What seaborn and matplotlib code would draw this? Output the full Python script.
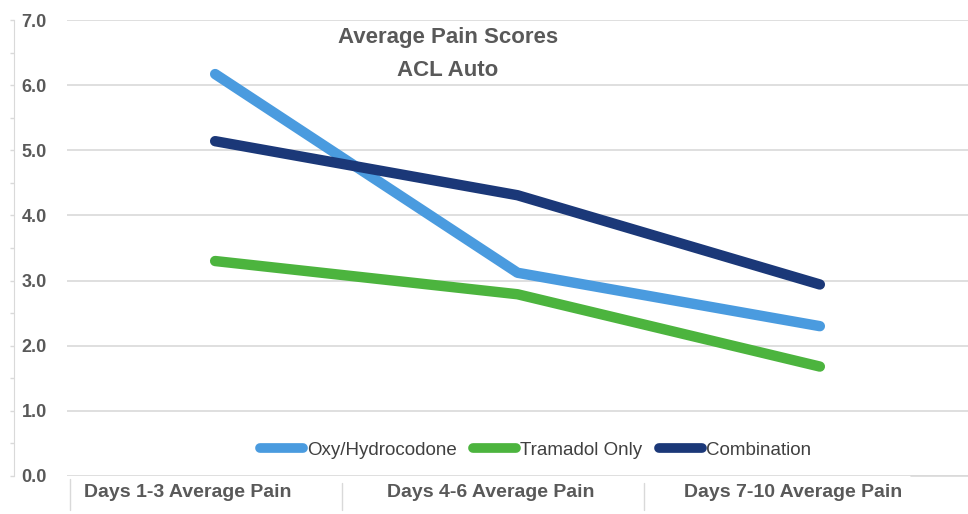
import numpy as np
import pandas as pd
import matplotlib
matplotlib.use("Agg")
import matplotlib.pyplot as plt
import seaborn as sns

categories = ["Days 1-3 Average Pain", "Days 4-6 Average Pain", "Days 7-10 Average Pain"]
series_names = ["Oxy/Hydrocodone", "Tramadol Only", "Combination"]
oxy = [6.17, 3.12, 2.30]
tramadol = [3.30, 2.79, 1.68]
combination = [5.14, 4.31, 2.94]
colors = ["#4A9BDF", "#4CB43E", "#1B3878"]
yticks = [0, 1, 2, 3, 4, 5, 6, 7]

df = pd.DataFrame({
    "period": categories * 3,
    "pos": [0, 1, 2] * 3,
    "score": oxy + tramadol + combination,
    "group": [series_names[0]] * 3 + [series_names[1]] * 3 + [series_names[2]] * 3,
})

sns.set_style("white")
plt.rcParams["font.family"] = ["Liberation Sans", "DejaVu Sans"]
gray = "#595959"

fig = plt.figure(figsize=(9.68, 5.14), dpi=100)
ax = fig.add_axes([67 / 968, 1 - 476 / 514, 901 / 968, 456 / 514])

sns.lineplot(data=df, x="pos", y="score", hue="group", hue_order=series_names,
             palette=colors, linewidth=7.5, ax=ax, legend=True,
             solid_capstyle="round")

ax.set_xlim(-0.49, 2.49)
ax.set_ylim(0, 7)
ax.set_yticks(yticks)
ax.set_yticklabels([f"{v:.1f}" for v in yticks], fontsize=13,
                   fontweight="bold", color=gray)
ax.tick_params(axis="y", length=0, pad=14.5)
ax.set_xticks([])
ax.set_xlabel("")
ax.set_ylabel("")
for s in ax.spines.values():
    s.set_visible(False)
ax.grid(axis="y", color="#D9D9D9", linewidth=1.2)
ax.set_axisbelow(True)

# thin vertical axis line far left with half-unit ticks
sec = ax.secondary_yaxis(-53 / 901)
sec.set_yticks(np.arange(0, 7.01, 0.5))
sec.set_yticklabels([])
sec.tick_params(length=3, color="#D9D9D9", width=1)
sec.spines["left"].set_color("#D9D9D9")

# category labels under the plot, with separators
for i, c in enumerate(categories):
    ax.text(i - 0.09, -0.26, c, ha="center", va="center", fontsize=14,
            fontweight="bold", color=gray, transform=ax.transData, clip_on=False)
for b in [0.42, 1.42]:
    ax.plot([b, b], [-0.1, -0.52], color="#D9D9D9", lw=1, clip_on=False)
ax.plot([-0.48, -0.48], [-0.05, -0.52], color="#D9D9D9", lw=1, clip_on=False)
ax.plot([2.3, 2.49], [0, 0], color="#D9D9D9", lw=1.2, clip_on=False)

handles, labels = ax.get_legend_handles_labels()
leg = ax.legend(handles, labels, loc="center", bbox_to_anchor=(0.52, 0.057),
                ncol=3, frameon=False, fontsize=13.5, handlelength=2.3,
                handletextpad=0.2, columnspacing=0.9)
for t in leg.get_texts():
    t.set_color("#404040")
for h in leg.legend_handles:
    h.set_linewidth(7)
    h.set_solid_capstyle("round")

fig.text(448 / 968, 1 - 37 / 514, "Average Pain Scores", ha="center", va="center",
         fontsize=16, fontweight="bold", color=gray)
fig.text(448 / 968, 1 - 70 / 514, "ACL Auto", ha="center", va="center",
         fontsize=16, fontweight="bold", color=gray)

fig.savefig("out.png", dpi=100)
